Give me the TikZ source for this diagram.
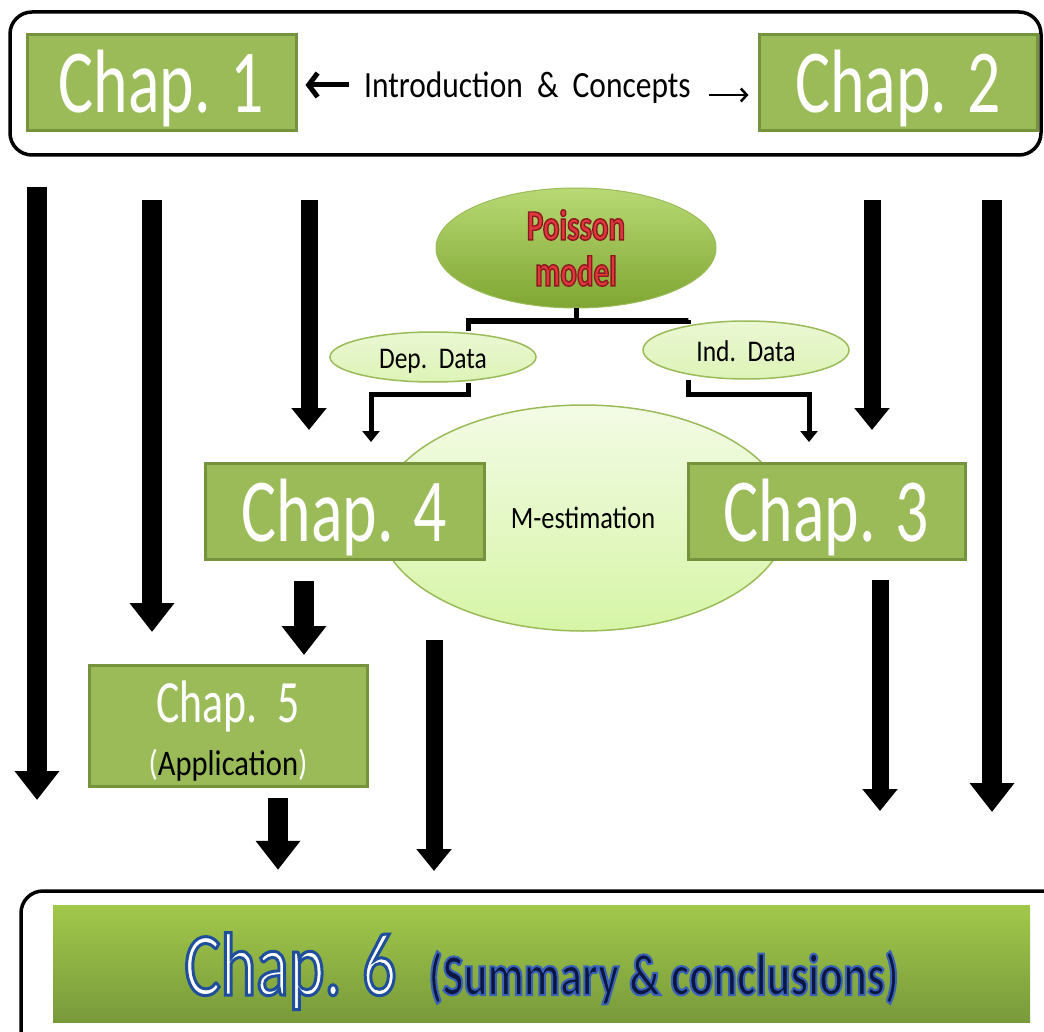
\documentclass[tikz,border=0pt]{standalone}
\usepackage{fontspec}
\setmainfont{Carlito}
\newfontfamily\chapfont[FakeStretch=0.73]{Carlito}
\newfontfamily\datafont[FakeStretch=0.85]{Carlito}
\newfontfamily\heavyfont[FakeStretch=0.72]{Carlito}
\newfontfamily\sixfont[FakeStretch=0.755]{Carlito}
\usetikzlibrary{arrows.meta,shapes.geometric}

% outlined letters: stroke width, stroke colour (rgb), text
\newcommand{\outlined}[3]{\special{pdf:literal direct 2 Tr #1 w #2 RG}#3\special{pdf:literal direct 0 Tr}}

\definecolor{chapgreen}{HTML}{9BBB59}
\definecolor{chapedge}{HTML}{76923C}
\definecolor{poissonred}{HTML}{E0383C}
\definecolor{navytext}{HTML}{0C1640}
\definecolor{lightleaf}{HTML}{B8D974}
\definecolor{darkleaf}{HTML}{7FA632}
\definecolor{paleleaf}{HTML}{DDF3B6}
\definecolor{mintleaf}{HTML}{D6F5A6}
\definecolor{barleaf}{HTML}{A2C84A}
\definecolor{darkbar}{HTML}{799A3B}

\tikzset{
  frame/.style={draw=black, line width=3.5pt, rounded corners=22pt},
  chapbox/.style={draw=chapedge, line width=3pt, fill=chapgreen, minimum width=#1,
    minimum height=96pt, inner sep=0pt, text=white,
    font=\chapfont\fontsize{90}{90}\selectfont, text height=60pt, text depth=0pt},
  chapbox/.default=278pt,
  introtext/.style={inner sep=0pt, font=\datafont\fontsize{37}{37}\selectfont,
    text height=25pt, text depth=0pt},
  poisson/.style={ellipse, draw=chapgreen, line width=1pt, top color=lightleaf,
    bottom color=darkleaf, minimum width=280pt, minimum height=120pt, inner sep=0pt,
    align=center, text=poissonred, font=\heavyfont\bfseries\fontsize{43}{46}\selectfont},
  datanode/.style={ellipse, draw=chapgreen, line width=1.5pt, top color=paleleaf!60!white,
    bottom color=paleleaf, minimum width=206pt, minimum height=50pt, inner sep=0pt,
    font=\datafont\fontsize{30}{30}\selectfont, text height=22pt, text depth=0pt},
  mest/.style={ellipse, draw=chapgreen, line width=1.5pt, top color=paleleaf!35!white,
    bottom color=mintleaf, minimum width=410pt, minimum height=226pt, inner sep=0pt,
    font=\datafont\fontsize{31}{31}\selectfont, text height=20pt, text depth=0pt},
  chapsix/.style={top color=barleaf, bottom color=darkbar, minimum width=977pt,
    minimum height=117pt, inner sep=0pt, text=white, text height=63pt, text depth=0pt},
  tree/.style={line width=5pt},
  treearrow/.style={line width=5pt, -{Triangle[width=17pt,length=11pt]}},
  bigarrow/.style={line width=20pt, -{Triangle[width=43pt,length=29pt]}},
  slimarrow/.style={line width=17pt, -{Triangle[width=34pt,length=22pt]}},
  thickback/.style={line width=5pt, -{Straight Barb[length=9pt,width=24pt]}},
  thinback/.style={line width=2.5pt, -{Straight Barb[length=6pt,width=13pt]}}
}

\begin{document}
\begin{tikzpicture}[x=1pt,y=-1pt]
    \useasboundingbox (0,0) rectangle (1044,1032);
    \clip (0,0) rectangle (1044,1032);

    % Frames round the first and the last chapters
    \draw[frame] (10,12) rectangle (1041,155);
    \draw[frame] (21,891) rectangle (1075,1070);

    % Define the chapters
    \node[chapbox=269pt] (chap1) at (161.5,82.5) {Chap. 1};
    \node[chapbox=278pt] (chap2) at (898,82.5) {Chap. 2};
    \node[introtext] (intro) at (527.5,85) {Introduction\ \ \&\ \ Concepts};

    \node[poisson] (poisson) at (576,248) {\outlined{1.4}{0.55 0.10 0.12}{Poisson}\\\outlined{1.4}{0.55 0.10 0.12}{model}};
    \node[datanode] (dep) at (433,357) {Dep.\ \ Data};
    \node[datanode, minimum height=58pt] (ind) at (746,350) {Ind.\ \ Data};

    \node[mest] (mest) at (583,518) {M-estimation};
    \node[chapbox=279pt] (chap4) at (344.5,511.5) {Chap. 4};
    \node[chapbox=277pt] (chap3) at (826.5,511.5) {Chap. 3};

    \node[chapbox=278pt, minimum height=121pt, font=\chapfont\fontsize{60}{60}\selectfont,
      text height=0pt, text depth=8pt] (chap5) at (228,726) {Chap.\ \ 5};
    \node[anchor=base, inner sep=0pt, text=white, font=\datafont\fontsize{36}{36}\selectfont]
      (app) at ([yshift=-49pt]chap5.center) {(\textcolor{black}{Application})};

    \node[chapsix] (chap6) at (541.5,963.5) {{\sixfont\fontsize{90}{90}\selectfont\outlined{3}{0.12 0.31 0.61}{Chap. 6}}\hspace{32pt}{\sixfont\bfseries\fontsize{59}{59}\selectfont\color{navytext}\outlined{2}{0.22 0.38 0.72}{(Summary \& conclusions)}}};

    % Introduction arrows
    \coordinate (ra) at ([yshift=-10pt]intro.east);
    \draw[thickback, shorten <=15pt, shorten >=8pt] (intro.west) -- (intro.west -| chap1.east);
    \draw[thinback, shorten <=18pt, shorten >=9pt] (ra) -- (ra -| chap2.west);

    % Poisson model splits into the two data types
    \coordinate (jl) at (468,321);
    \coordinate (jr) at (688,321);
    \draw[tree] (poisson.south) -- (poisson.south |- jl);
    \draw[tree] (jl |- dep.north) -- (jl) -- (jr) -- (jr |- ind.north);
    \coordinate (dl) at (468,394);
    \coordinate (dr) at (688,394);
    \coordinate (d4) at (371,442);
    \coordinate (d3) at (809,442);
    \draw[treearrow] (jl |- dep.south) -- (dl) -| (d4);
    \draw[treearrow] (jr |- ind.south) -- (dr) -| (d3);

    % Reading paths
    \coordinate (p1a) at (37,187);   \coordinate (p1b) at (37,800);
    \coordinate (p2a) at (152,200);  \coordinate (p2b) at (152,632);
    \coordinate (p3a) at (309,200);  \coordinate (p3b) at (309,430);
    \coordinate (p4a) at (872,200);  \coordinate (p4b) at (872,430);
    \coordinate (p5a) at (992,200);  \coordinate (p5b) at (992,812);
    \coordinate (p6a) at (434,640);  \coordinate (p6b) at (434,871);
    \coordinate (p7a) at (880,580);  \coordinate (p7b) at (880,811);
    \coordinate (c45) at (304,0);
    \coordinate (c56) at (278,0);

    \draw[bigarrow] (p1a) -- (p1b);
    \draw[bigarrow] (p2a) -- (p2b);
    \draw[slimarrow] (p3a) -- (p3b);
    \draw[slimarrow] (p4a) -- (p4b);
    \draw[bigarrow] (p5a) -- (p5b);
    \draw[slimarrow] (p6a) -- (p6b);
    \draw[slimarrow] (p7a) -- (p7b);
    \draw[bigarrow, shorten <=20pt, shorten >=9pt] (c45 |- chap4.south) -- (c45 |- chap5.north);
    \draw[bigarrow, shorten <=10pt, shorten >=35pt] (c56 |- chap5.south) -- (c56 |- chap6.north);
\end{tikzpicture}
\end{document}
